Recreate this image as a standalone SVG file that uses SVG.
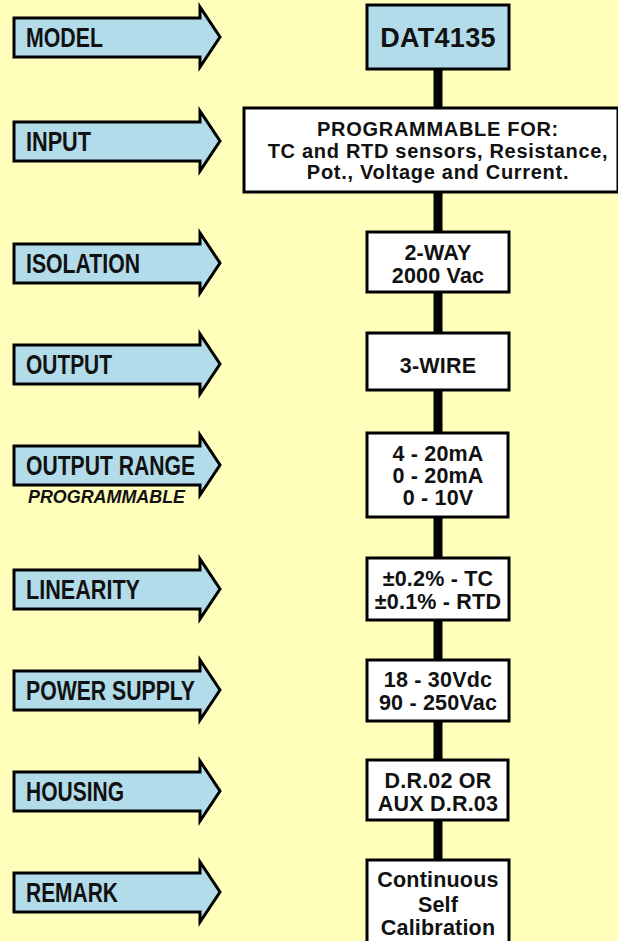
<svg xmlns="http://www.w3.org/2000/svg" width="618" height="941" viewBox="0 0 618 941">
<defs>
<style>
.bg{fill:#ffffbb}
.arrow{fill:#b3dcea;stroke:#000;stroke-width:3;stroke-linejoin:miter}
.lbl{font-family:"Liberation Sans",Arial,sans-serif;font-weight:bold;font-size:27.5px;fill:#111}
.sub{font-family:"Liberation Sans",Arial,sans-serif;font-weight:bold;font-style:italic;font-size:18.5px;fill:#111}
.box{fill:#fff;stroke:#000;stroke-width:3}
.boxb{fill:#b3dcea;stroke:#000;stroke-width:3}
.t{font-family:"Liberation Sans",Arial,sans-serif;font-weight:bold;font-size:21.5px;letter-spacing:0.2px;fill:#111;text-anchor:middle}
.ti{font-family:"Liberation Sans",Arial,sans-serif;font-weight:bold;font-size:20px;letter-spacing:0.7px;fill:#111;text-anchor:middle}
.big{font-family:"Liberation Sans",Arial,sans-serif;font-weight:bold;font-size:27px;letter-spacing:0.3px;fill:#111;text-anchor:middle}
.conn{stroke:#000;stroke-width:9;fill:none}
</style>
<path id="arr" d="M14,-19 H200 V-30 L220,0 L200,30 V20 H14 Z"/>
</defs>
<rect class="bg" x="0" y="0" width="618" height="941"/>
<g id="connectors">
<line class="conn" x1="438" y1="69" x2="438" y2="862"/>
</g>
<g id="label-model"><use href="#arr" class="arrow" transform="translate(0,37)"/><text class="lbl" x="26" y="47" textLength="77" lengthAdjust="spacingAndGlyphs">MODEL</text></g>
<g id="label-input"><use href="#arr" class="arrow" transform="translate(0,141)"/><text class="lbl" x="26" y="151" textLength="65" lengthAdjust="spacingAndGlyphs">INPUT</text></g>
<g id="label-isolation"><use href="#arr" class="arrow" transform="translate(0,263)"/><text class="lbl" x="26" y="273" textLength="114" lengthAdjust="spacingAndGlyphs">ISOLATION</text></g>
<g id="label-output"><use href="#arr" class="arrow" transform="translate(0,364)"/><text class="lbl" x="26" y="374" textLength="86" lengthAdjust="spacingAndGlyphs">OUTPUT</text></g>
<g id="label-output-range"><use href="#arr" class="arrow" transform="translate(0,465)"/><text class="lbl" x="26" y="475" textLength="169" lengthAdjust="spacingAndGlyphs">OUTPUT RANGE</text><text class="sub" x="28" y="503" textLength="157" lengthAdjust="spacingAndGlyphs">PROGRAMMABLE</text></g>
<g id="label-linearity"><use href="#arr" class="arrow" transform="translate(0,589)"/><text class="lbl" x="26" y="599" textLength="114" lengthAdjust="spacingAndGlyphs">LINEARITY</text></g>
<g id="label-power-supply"><use href="#arr" class="arrow" transform="translate(0,690)"/><text class="lbl" x="26" y="700" textLength="169" lengthAdjust="spacingAndGlyphs">POWER SUPPLY</text></g>
<g id="label-housing"><use href="#arr" class="arrow" transform="translate(0,791)"/><text class="lbl" x="26" y="801" textLength="98" lengthAdjust="spacingAndGlyphs">HOUSING</text></g>
<g id="label-remark"><use href="#arr" class="arrow" transform="translate(0,892)"/><text class="lbl" x="26" y="902" textLength="92" lengthAdjust="spacingAndGlyphs">REMARK</text></g>
<g id="box-model"><rect class="boxb" x="367" y="5" width="142" height="64"/><text class="big" x="438" y="47">DAT4135</text></g>
<g id="box-input"><rect class="box" x="244" y="108" width="374" height="84"/><text class="ti" x="438" y="136">PROGRAMMABLE FOR:</text><text class="ti" x="438" y="157.5">TC and RTD sensors, Resistance,</text><text class="ti" x="438" y="179">Pot., Voltage and Current.</text></g>
<g id="box-isolation"><rect class="box" x="367" y="232" width="142" height="60"/><text class="t" x="438" y="260">2-WAY</text><text class="t" x="438" y="283">2000 Vac</text></g>
<g id="box-output"><rect class="box" x="367" y="333" width="142" height="57"/><text class="t" x="438" y="373">3-WIRE</text></g>
<g id="box-output-range"><rect class="box" x="367" y="433" width="141" height="84"/><text class="t" x="438" y="461">4 - 20mA</text><text class="t" x="438" y="483">0 - 20mA</text><text class="t" x="438" y="505">0 - 10V</text></g>
<g id="box-linearity"><rect class="box" x="367" y="558" width="142" height="62"/><text class="t" x="438" y="586">±0.2% - TC</text><text class="t" x="438" y="609">±0.1% - RTD</text></g>
<g id="box-power-supply"><rect class="box" x="367" y="660" width="142" height="61"/><text class="t" x="438" y="687">18 - 30Vdc</text><text class="t" x="438" y="710">90 - 250Vac</text></g>
<g id="box-housing"><rect class="box" x="367" y="760" width="141" height="60"/><text class="t" x="438" y="788">D.R.02 OR</text><text class="t" x="438" y="811">AUX D.R.03</text></g>
<g id="box-remark"><rect class="box" x="367" y="860" width="142" height="90"/><text class="t" x="438" y="887">Continuous</text><text class="t" x="438" y="912">Self</text><text class="t" x="438" y="935">Calibration</text></g>
</svg>
